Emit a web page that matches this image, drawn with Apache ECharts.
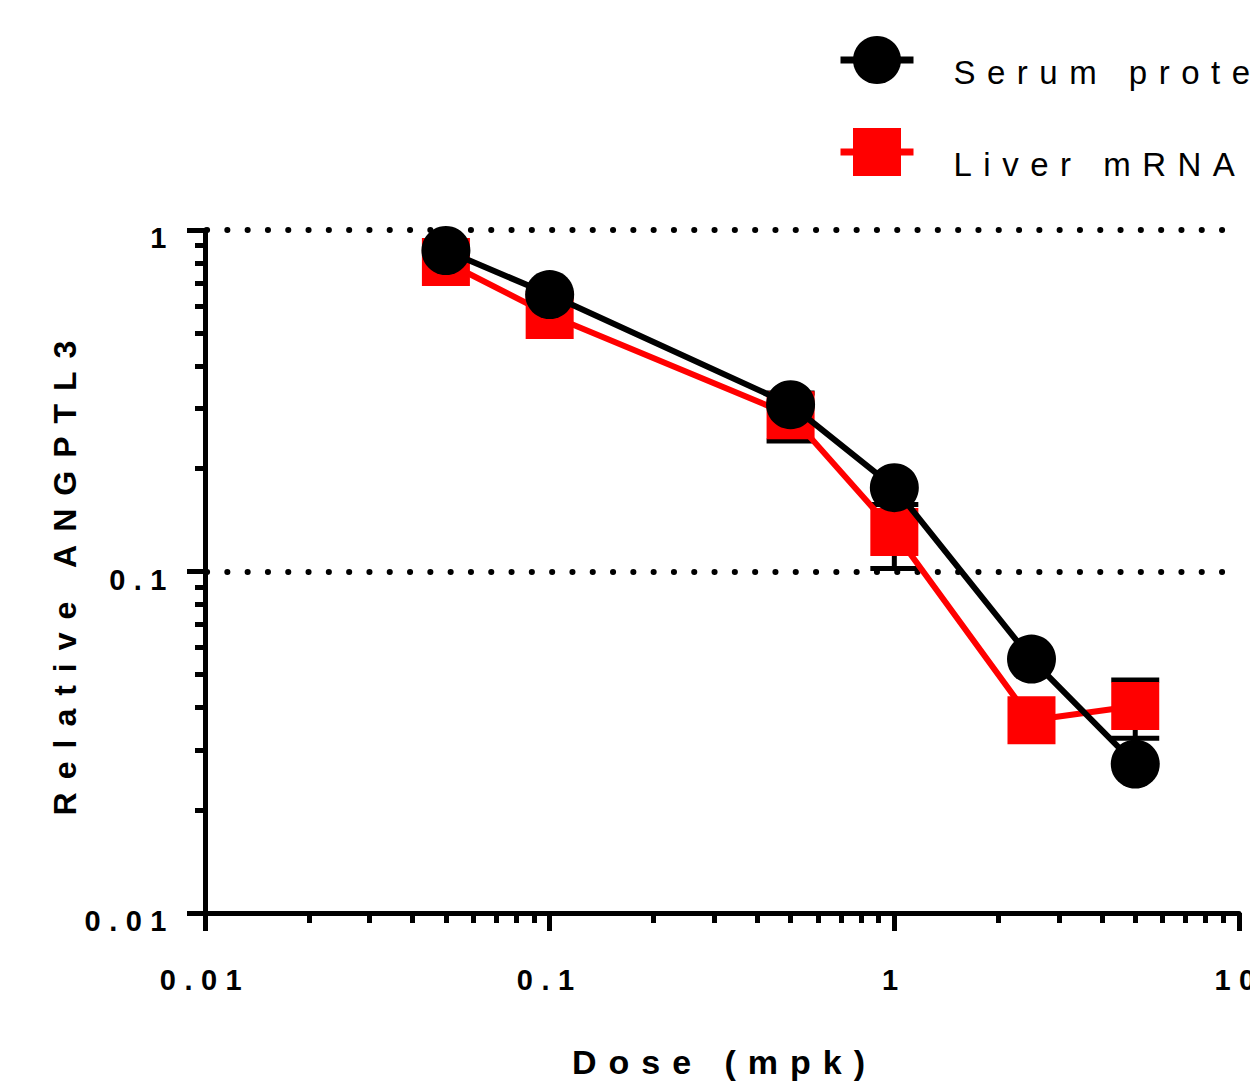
<!DOCTYPE html>
<html>
<head>
<meta charset="utf-8">
<script src="https://cdn.jsdelivr.net/npm/echarts@6/dist/echarts.min.js"></script>
<style>
  html, body { margin: 0; padding: 0; background: #fff; }
  #chart { width: 1250px; height: 1088px; }
  /* spaced-out lettering like the original plot */
  #chart text[style*="33px"] { letter-spacing: 11.5px; dominant-baseline: hanging; }
  #chart text[style*="34px"] { letter-spacing: 12px; }
  #chart text[style*="32px"] { letter-spacing: 13px; }
  #chart text[style*="29px"] { letter-spacing: 8.5px; }
</style>
</head>
<body>
<div id="chart"></div>
<script>
// dose (mpk)
const doses = [0.05, 0.1, 0.5, 1, 2.5, 5]
// relative ANGPTL3
const serumProtein = [0.871, 0.647, 0.308, 0.176, 0.0554, 0.0273]
const liverMRNA = [0.806, 0.564, 0.287, 0.1305, 0.0367, 0.0404]
// error bars on the liver mRNA points (null = hidden by the marker)
const liverLow = [null, null, 0.241, 0.102, null, 0.0325]
const liverHigh = [null, null, 0.333, 0.157, null, 0.0481]
// minor tick positions
const xMinorTicks = [0.02, 0.03, 0.04, 0.05, 0.06, 0.07, 0.08, 0.09,
    0.2, 0.3, 0.4, 0.5, 0.6, 0.7, 0.8, 0.9, 2, 3, 4, 5, 6, 7, 8, 9]
const yMinorTicks = [0.02, 0.03, 0.04, 0.05, 0.06, 0.07, 0.08, 0.09,
    0.2, 0.3, 0.4, 0.5, 0.6, 0.7, 0.8, 0.9]

const font = 'Liberation Sans, Arial, sans-serif'

const serumData = doses.map((d, i) => [d, serumProtein[i]])
const liverData = doses.map((d, i) => [d, liverMRNA[i]])
const errData = []
doses.forEach((d, i) => {
    if (liverLow[i] != null) errData.push([d, liverLow[i], liverHigh[i]])
})

let myChart = echarts.init(document.getElementById('chart'), null, { renderer: 'svg' })

const mainAxisLine = { show: true, lineStyle: { color: '#000', width: 5 } }

let option = {
    animation: false,
    grid: {
        left: 205, right: 11, top: 230, bottom: 175,
        containLabel: false, outerBoundsMode: 'none'
    },
    legend: {
        data: ['Serum protein', 'Liver mRNA'],
        orient: 'vertical',
        left: 837,
        top: 36,
        padding: 0,
        itemWidth: 73,
        itemHeight: 60,
        itemGap: 44,
        lineStyle: { width: 7 },
        textStyle: {
            fontSize: 33, color: '#000', fontFamily: font,
            padding: [0, 0, 0, 35]
        }
    },
    xAxis: [
        {
            type: 'log',
            min: 0.01,
            max: 10,
            name: 'Dose (mpk)',
            nameLocation: 'middle',
            nameGap: 132,
            nameTextStyle: { fontSize: 34, fontWeight: 'bold', color: '#000', fontFamily: font, padding: [0, 0, 0, 5] },
            axisLine: mainAxisLine,
            axisTick: { show: true, inside: false, length: 18, lineStyle: { color: '#000', width: 5 } },
            axisLabel: { fontSize: 29, fontWeight: 'bold', color: '#000', fontFamily: font, margin: 52 },
            splitLine: { show: false }
        },
        {
            type: 'log',
            min: 0.01,
            max: 10,
            position: 'bottom',
            axisLine: { show: false },
            axisLabel: { show: false },
            splitLine: { show: false },
            axisTick: {
                show: true, length: 10, customValues: xMinorTicks,
                lineStyle: { color: '#000', width: 5 }
            }
        }
    ],
    yAxis: [
        {
            type: 'log',
            min: 0.01,
            max: 1,
            name: 'Relative ANGPTL3',
            nameLocation: 'middle',
            nameGap: 124,
            nameTextStyle: { fontSize: 32, fontWeight: 'bold', color: '#000', fontFamily: font },
            axisLine: mainAxisLine,
            axisTick: { show: true, inside: false, length: 18, lineStyle: { color: '#000', width: 5 } },
            axisLabel: {
                fontSize: 29, fontWeight: 'bold', color: '#000', fontFamily: font, margin: 30,
                verticalAlign: 'top', lineHeight: 16
            },
            splitLine: {
                show: true,
                showMinLine: false,
                lineStyle: { color: '#000', width: 6, type: [0.1, 20.2], cap: 'round', dashOffset: -2 }
            }
        },
        {
            type: 'log',
            min: 0.01,
            max: 1,
            position: 'left',
            axisLine: { show: false },
            axisLabel: { show: false },
            splitLine: { show: false },
            axisTick: {
                show: true, length: 10, customValues: yMinorTicks,
                lineStyle: { color: '#000', width: 5 }
            }
        }
    ],
    series: [
        {
            name: 'Liver mRNA',
            type: 'line',
            data: liverData,
            symbol: 'rect',
            symbolSize: 48,
            color: '#ff0000',
            itemStyle: { color: '#ff0000' },
            lineStyle: { color: '#ff0000', width: 6 },
            z: 2
        },
        {
            name: 'errors',
            type: 'custom',
            data: errData,
            encode: { x: 0, y: [1, 2] },
            z: 1,
            renderItem(params, api) {
                const x = api.value(0)
                const lo = api.coord([x, api.value(1)])
                const hi = api.coord([x, api.value(2)])
                const half = 24
                const st = { stroke: '#000', lineWidth: 5 }
                return {
                    type: 'group',
                    children: [
                        { type: 'line', shape: { x1: lo[0], y1: lo[1], x2: hi[0], y2: hi[1] }, style: st },
                        { type: 'line', shape: { x1: lo[0] - half, y1: lo[1], x2: lo[0] + half, y2: lo[1] }, style: st },
                        { type: 'line', shape: { x1: hi[0] - half, y1: hi[1], x2: hi[0] + half, y2: hi[1] }, style: st }
                    ]
                }
            }
        },
        {
            name: 'Serum protein',
            type: 'line',
            data: serumData,
            symbol: 'circle',
            symbolSize: 49,
            color: '#000',
            itemStyle: { color: '#000' },
            lineStyle: { color: '#000', width: 6 },
            z: 3
        }
    ]
}
myChart.setOption(option)
window.addEventListener('resize', function () {
    myChart.resize()
})
</script>
</body>
</html>
